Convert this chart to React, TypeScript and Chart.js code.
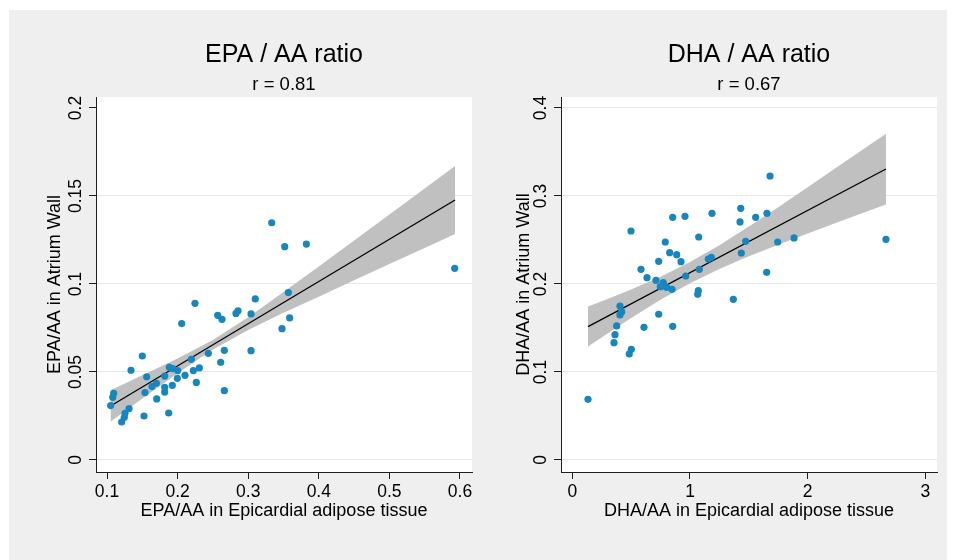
import React, { useEffect, useRef } from "react";
import { Chart, registerables } from "chart.js";

Chart.register(...registerables);

const FONT = "'Liberation Sans', Arial, Helvetica, sans-serif";

// ---------- EPA / AA panel ----------
const epaEpicardial = [
  0.3333, 0.3517, 0.3824, 0.5925, 0.3568, 0.31, 0.2246, 0.3587, 0.3479, 0.2568,
  0.2629, 0.2827, 0.2856, 0.304, 0.2058, 0.304, 0.2662, 0.2435, 0.261, 0.2195,
  0.15, 0.134, 0.1562, 0.1883, 0.193, 0.2001, 0.2223, 0.2308, 0.2105, 0.1817,
  0.1996, 0.2265, 0.2662, 0.1699, 0.1637, 0.1817, 0.1817, 0.1925, 0.1538, 0.1704,
  0.1524, 0.1874, 0.1095, 0.1081, 0.1052, 0.1312, 0.1255, 0.1245, 0.1208,
];
const epaAtrium = [
  0.1348, 0.1212, 0.1227, 0.1089, 0.0951, 0.0915, 0.089, 0.0807, 0.0746, 0.0822,
  0.0799, 0.0833, 0.0848, 0.083, 0.0775, 0.0621, 0.0623, 0.0606, 0.0555, 0.0572,
  0.0591, 0.051, 0.0473, 0.0527, 0.0519, 0.0508, 0.0508, 0.0523, 0.0481, 0.0477,
  0.0464, 0.0441, 0.0394, 0.0436, 0.0417, 0.0413, 0.0386, 0.0424, 0.0383, 0.0347,
  0.025, 0.0267, 0.0379, 0.0356, 0.0309, 0.0292, 0.0265, 0.0243, 0.0216,
];
const epaFitX = [0.105, 0.593];
const epaFitY = [0.0307, 0.1477];
const epaBandX = [0.105, 0.15, 0.2, 0.25, 0.3, 0.35, 0.4, 0.45, 0.5, 0.55, 0.593];
const epaBandUpper = [0.0397, 0.0481, 0.0577, 0.0682, 0.0811, 0.0954, 0.11, 0.1247, 0.1395, 0.1543, 0.167];
const epaBandLower = [0.0217, 0.0349, 0.0493, 0.0628, 0.0739, 0.0836, 0.0928, 0.1021, 0.1113, 0.1205, 0.1284];
const epaXTicks = [0.1, 0.2, 0.3, 0.4, 0.5, 0.6];
const epaXTickLabels = ["0.1", "0.2", "0.3", "0.4", "0.5", "0.6"];
const epaYTicks = [0, 0.05, 0.1, 0.15, 0.2];
const epaYTickLabels = ["0", "0.05", "0.1", "0.15", "0.2"];

// ---------- DHA / AA panel ----------
const dhaEpicardial = [
  0.4987, 1.074, 0.79, 0.8275, 0.887, 0.9235, 0.734, 1.1555, 1.181, 1.473,
  1.436, 0.5837, 1.079, 0.6347, 0.711, 0.9635, 0.773, 0.7816, 0.7477, 0.802,
  0.847, 1.0706, 1.0654, 1.368, 0.405, 0.4197, 0.405, 0.734, 0.377, 0.609,
  0.853, 0.3628, 0.3543, 0.5013, 0.4843, 0.853, 0.9575, 1.187, 1.431, 1.425,
  1.558, 1.654, 1.68, 1.745, 1.884, 2.665, 1.6516, 0.1334,
];
const dhaAtrium = [
  0.2602, 0.2534, 0.2477, 0.2356, 0.2333, 0.2254, 0.2258, 0.2284, 0.2303, 0.2485,
  0.2352, 0.2167, 0.2167, 0.2072, 0.2042, 0.2091, 0.2015, 0.1977, 0.197, 0.1962,
  0.194, 0.1924, 0.1883, 0.1826, 0.175, 0.1685, 0.1648, 0.1656, 0.1523, 0.1508,
  0.1519, 0.1424, 0.1333, 0.1258, 0.1205, 0.2758, 0.2769, 0.2803, 0.286, 0.2705,
  0.2758, 0.2803, 0.3227, 0.2477, 0.2523, 0.2508, 0.2133, 0.069,
];
const dhaFitX = [0.1334, 2.665];
const dhaFitY = [0.1515, 0.3307];
const dhaBandX = [0.1334, 0.3, 0.5, 0.75, 1.0, 1.25, 1.5, 1.75, 2.0, 2.3, 2.665];
const dhaBandUpper = [0.1745, 0.1829, 0.1937, 0.2083, 0.2249, 0.2441, 0.2652, 0.2873, 0.3099, 0.3374, 0.3708];
const dhaBandLower = [0.129, 0.1437, 0.1613, 0.1821, 0.2009, 0.2171, 0.2314, 0.2447, 0.2575, 0.2724, 0.2902];
const dhaXTicks = [0, 1, 2, 3];
const dhaXTickLabels = ["0", "1", "2", "3"];
const dhaYTicks = [0, 0.1, 0.2, 0.3, 0.4];
const dhaYTickLabels = ["0", "0.1", "0.2", "0.3", "0.4"];

const POINT_COLOR = "#1786bf";
const BAND_COLOR = "#c0c0c0";
const GRID_COLOR = "#e6e6e6";
const AXIS_COLOR = "#1e1e1e";

type PanelSpec = {
  title: string;
  subtitle: string;
  xTitle: string;
  yTitle: string;
  px: number[];
  py: number[];
  fitX: number[];
  fitY: number[];
  bandX: number[];
  bandU: number[];
  bandL: number[];
  xTicks: number[];
  xTickLabels: string[];
  yTicks: number[];
  yTickLabels: string[];
  hiddenGrid: number[];
  xMin: number;
  xMax: number;
  yMin: number;
  yMax: number;
  yAxisWidth: number;
  padRight: number;
};

const panels: PanelSpec[] = [
  {
    title: "EPA / AA ratio",
    subtitle: "r = 0.81",
    xTitle: "EPA/AA in Epicardial adipose tissue",
    yTitle: "EPA/AA in Atrium Wall",
    px: epaEpicardial,
    py: epaAtrium,
    fitX: epaFitX,
    fitY: epaFitY,
    bandX: epaBandX,
    bandU: epaBandUpper,
    bandL: epaBandLower,
    xTicks: epaXTicks,
    xTickLabels: epaXTickLabels,
    yTicks: epaYTicks,
    yTickLabels: epaYTickLabels,
    hiddenGrid: [0.2],
    xMin: 0.0844,
    xMax: 0.617,
    yMin: -0.00682,
    yMax: 0.20625,
    yAxisWidth: 87,
    padRight: 6,
  },
  {
    title: "DHA / AA ratio",
    subtitle: "r = 0.67",
    xTitle: "DHA/AA in Epicardial adipose tissue",
    yTitle: "DHA/AA in Atrium Wall",
    px: dhaEpicardial,
    py: dhaAtrium,
    fitX: dhaFitX,
    fitY: dhaFitY,
    bandX: dhaBandX,
    bandU: dhaBandUpper,
    bandL: dhaBandLower,
    xTicks: dhaXTicks,
    xTickLabels: dhaXTickLabels,
    yTicks: dhaYTicks,
    yTickLabels: dhaYTickLabels,
    hiddenGrid: [],
    xMin: -0.096,
    xMax: 3.0986,
    yMin: -0.01364,
    yMax: 0.4125,
    yAxisWidth: 83,
    padRight: 10,
  },
];

const CANVAS_W = 469;
const CANVAS_H = 550;
const TICK_FONT = 17.5;
const AXIS_TITLE_FONT = 18;

function pts(xs: number[], ys: number[]) {
  return xs.map((x, i) => ({ x, y: ys[i] }));
}

function Panel({ spec }: { spec: PanelSpec }) {
  const ref = useRef<HTMLCanvasElement | null>(null);

  useEffect(() => {
    if (!ref.current) return;
    const p = spec;

    const decor = {
      id: "stataDecor",
      beforeDraw(chart: any) {
        const { ctx, chartArea } = chart;
        ctx.save();
        ctx.fillStyle = "#ffffff";
        ctx.fillRect(
          chartArea.left,
          chartArea.top,
          chartArea.right - chartArea.left,
          chartArea.bottom - chartArea.top
        );
        ctx.restore();
      },
      afterDraw(chart: any) {
        const { ctx, chartArea, scales } = chart;
        const ys = scales.y;
        ctx.save();
        ctx.fillStyle = "#000";
        ctx.textAlign = "center";
        ctx.textBaseline = "alphabetic";
        ctx.font = `${TICK_FONT}px ${FONT}`;
        p.yTicks.forEach((v, i) => {
          const yy = ys.getPixelForValue(v);
          ctx.save();
          ctx.translate(chartArea.left - 14.7, yy);
          ctx.rotate(-Math.PI / 2);
          ctx.fillText(p.yTickLabels[i], 0, 0);
          ctx.restore();
        });
        const cx = (chartArea.left + chartArea.right) / 2;
        ctx.font = `25px ${FONT}`;
        ctx.fillText(p.title, cx, 52);
        ctx.font = `18.5px ${FONT}`;
        ctx.fillText(p.subtitle, cx, 80);
        ctx.restore();
      },
    };

    const chart = new Chart(ref.current, {
      type: "line",
      data: {
        datasets: [
          {
            label: "points",
            data: pts(p.px, p.py),
            showLine: false,
            pointRadius: 3.6,
            pointBackgroundColor: POINT_COLOR,
            pointBorderWidth: 0,
            pointHoverRadius: 3.6,
          },
          {
            label: "fit",
            data: pts(p.fitX, p.fitY),
            borderColor: "#000",
            borderWidth: 1.3,
            pointRadius: 0,
            fill: false,
          },
          {
            label: "upper",
            data: pts(p.bandX, p.bandU),
            borderWidth: 0,
            borderColor: "rgba(0,0,0,0)",
            backgroundColor: BAND_COLOR,
            pointRadius: 0,
            fill: "+1",
          },
          {
            label: "lower",
            data: pts(p.bandX, p.bandL),
            borderWidth: 0,
            borderColor: "rgba(0,0,0,0)",
            pointRadius: 0,
            fill: false,
          },
        ],
      },
      options: {
        responsive: false,
        animation: false,
        events: [],
        layout: {
          autoPadding: false,
          padding: { left: 0, right: p.padRight, top: 87, bottom: 0 },
        },
        plugins: {
          legend: { display: false },
          tooltip: { enabled: false },
          title: { display: false },
        },
        scales: {
          x: {
            type: "linear",
            min: p.xMin,
            max: p.xMax,
            afterFit: (s: any) => {
              s.height = 88;
            },
            afterBuildTicks: (s: any) => {
              s.ticks = p.xTicks.map((v) => ({ value: v }));
            },
            ticks: {
              autoSkip: false,
              maxRotation: 0,
              minRotation: 0,
              padding: 2.5,
              color: "#000",
              font: { family: FONT, size: TICK_FONT },
              callback: (v: any) => {
                const i = p.xTicks.indexOf(Number(v));
                return i >= 0 ? p.xTickLabels[i] : "";
              },
            },
            grid: {
              drawOnChartArea: false,
              drawTicks: true,
              tickLength: 7,
              tickColor: AXIS_COLOR,
              color: AXIS_COLOR,
            },
            border: { display: true, color: AXIS_COLOR, width: 1 },
            title: {
              display: true,
              text: p.xTitle,
              color: "#000",
              font: { family: FONT, size: AXIS_TITLE_FONT },
              padding: { top: 0, bottom: 38.2 },
            },
          },
          y: {
            type: "linear",
            min: p.yMin,
            max: p.yMax,
            afterFit: (s: any) => {
              s.width = p.yAxisWidth;
            },
            afterBuildTicks: (s: any) => {
              s.ticks = p.yTicks.map((v) => ({ value: v }));
            },
            ticks: { display: false },
            grid: {
              drawOnChartArea: true,
              drawTicks: true,
              tickLength: 7,
              tickColor: AXIS_COLOR,
              lineWidth: 1,
              color: (c: any) =>
                c.tick && p.hiddenGrid.indexOf(c.tick.value) >= 0
                  ? "rgba(0,0,0,0)"
                  : GRID_COLOR,
            },
            border: { display: true, color: AXIS_COLOR, width: 1 },
            title: {
              display: true,
              text: p.yTitle,
              color: "#000",
              font: { family: FONT, size: AXIS_TITLE_FONT },
              padding: { top: 35.4, bottom: 0 },
            },
          },
        },
      },
      plugins: [decor],
    } as any);

    return () => {
      chart.destroy();
    };
  }, [spec]);

  return (
    <canvas
      ref={ref}
      width={CANVAS_W}
      height={CANVAS_H}
      style={{ display: "block", width: CANVAS_W, height: CANVAS_H }}
    />
  );
}

export default function App() {
  return (
    <div
      style={{
        position: "absolute",
        left: 9,
        top: 10,
        width: 938,
        height: 550,
        background: "#efefef",
        display: "flex",
        flexDirection: "row",
      }}
    >
      {panels.map((s, i) => (
        <Panel key={i} spec={s} />
      ))}
    </div>
  );
}
